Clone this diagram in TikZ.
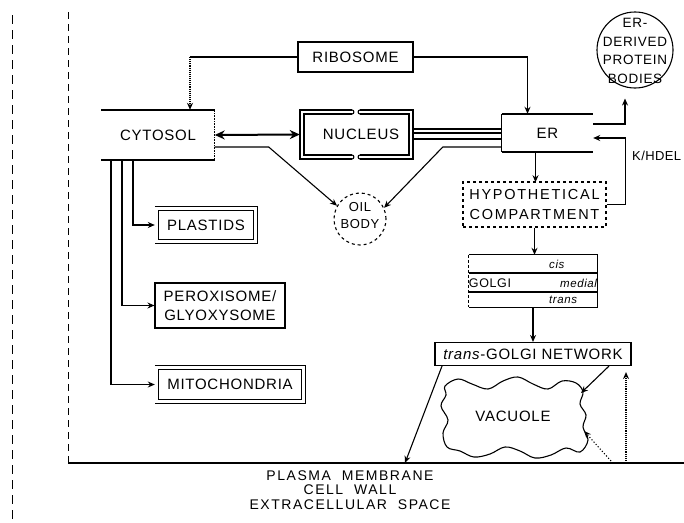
\documentclass[tikz,border=0pt]{standalone}
\usepackage{fontspec}
\setmainfont{Liberation Sans}[LetterSpace=5]
\usetikzlibrary{arrows.meta,calc}
\begin{document}
\begin{tikzpicture}[x=1pt,y=-1pt,
  font=\fontsize{15}{17}\selectfont,
  every node/.style={inner sep=0pt, align=center},
  ln/.style={line width=1.1pt},
  thk/.style={line width=1.5pt},
  arr/.style={-{Stealth[length=7pt,width=6pt]}, line width=1.1pt},
  wide/.style={font=\fontsize{14.5}{20}\selectfont\addfontfeature{LetterSpace=12}},
  small/.style={font=\fontsize{13}{17}\selectfont},
  golg/.style={font=\fontsize{12.5}{14}\selectfont},
  ital/.style={font=\fontsize{11.5}{14}\selectfont\itshape},
  ]
\useasboundingbox (0,0) rectangle (684,522);

% side lines and membrane
\coordinate (d1a) at (12,15);
\coordinate (d1b) at (12,522);
\coordinate (d2a) at (68,12);
\coordinate (pmL) at (68,463);
\coordinate (pmR) at (684,463);
\draw[line width=0.8pt, dash pattern=on 9pt off 6pt] (d1a) -- (d1b);
\draw[line width=0.8pt, dash pattern=on 7pt off 5pt] (d2a) -- (pmL);
\draw[thk] (pmL) -- (pmR);
\node (pmt) at (350,490) [font=\fontsize{14}{14.5}\selectfont\addfontfeature{LetterSpace=11}]
  {PLASMA\ \ MEMBRANE\\CELL\ \ WALL\\EXTRACELLULAR\ \ SPACE};

% ribosome
\node[draw, ln, minimum width=115pt, minimum height=30pt] (ribo) at (355.5,57) {RIBOSOME};

% cytosol
\node[minimum width=113pt, minimum height=50pt] (cyto) at (158,135) {CYTOSOL};
\draw[thk] (cyto.north west) -- (cyto.north east);
\draw[thk] (cyto.south west) -- (cyto.south east);
\draw[line width=0.6pt, densely dotted] (cyto.north east) -- (cyto.south east);

% nucleus
\node[minimum width=113pt, minimum height=49pt] (nuc) at (356.5,134.5) {};
\node (nuct) at (361,134.5) {NUCLEUS};
\draw[ln] (352,110) -- (300,110) -- (300,159) -- (352,159);
\draw[ln] (360,159) -- (413,159) -- (413,110) -- (360,110);
\draw[ln] (352,114) -- (304,114) -- (304,155) -- (352,155);
\draw[ln] (360,155) -- (409,155) -- (409,114) -- (360,114);
\draw[ln] (352,110) to[out=0,in=0,looseness=1.6] (352,114);
\draw[ln] (360,110) to[out=180,in=180,looseness=1.6] (360,114);
\draw[ln] (352,155) to[out=0,in=0,looseness=1.6] (352,159);
\draw[ln] (360,155) to[out=180,in=180,looseness=1.6] (360,159);

% ER
\node[minimum width=91pt, minimum height=38pt] (er) at (547.5,133) {ER};
\draw[thk] (er.north west) -- (er.north east);
\draw[thk] (er.south west) -- (er.south east);
\draw[ln] (er.north west) -- (er.south west);

% ER-derived protein bodies
\node[circle, draw, ln, minimum size=76pt] (pb) at (635,50) {};
\node[font=\fontsize{13.5}{18.5}\selectfont] (pbt) at (635,51) {ER-\\DERIVED\\PROTEIN\\BODIES};

% hypothetical compartment
\node[draw, ln, dashed, minimum width=143pt, minimum height=45pt, wide] (hyp) at (534.5,204.5) {HYPOTHETICAL\\COMPARTMENT};

% golgi
\node[minimum width=128pt, minimum height=52pt] (golgi) at (533,281) {};
\draw[ln] (golgi.north west) -- (golgi.north east) -- (golgi.south east) -- (golgi.south west);
\draw[ln, densely dashed] (golgi.north west) -- (golgi.south west);
\draw[line width=1.8pt] ([shift={(0,18)}]golgi.north west) -- ([shift={(0,18)}]golgi.north east);
\draw[line width=1.8pt] ([shift={(0,37)}]golgi.north west) -- ([shift={(0,37)}]golgi.north east);
\node[ital, anchor=west] (gcis) at (549,264) {cis};
\node[golg] (ggol) at (490,283) {GOLGI};
\node[ital, anchor=west] (gmed) at (560,283) {medial};
\node[ital, anchor=west] (gtr) at (549,300) {trans};

% trans-golgi network
\node[draw, ln, minimum width=196pt, minimum height=23pt] (tgn) at (533,354) {\textit{trans}-GOLGI NETWORK};

% vacuole
\draw[ln] plot[smooth cycle, tension=0.6] coordinates {
 (445,386) (458,379) (472,384) (488,389) (503,381) (518,377) (533,384) (548,389) (562,381) (576,383)
 (583,392) (580,404) (586,415) (583,427) (588,440)
 (580,452) (566,448) (551,455) (535,458) (520,451) (505,447) (490,454) (474,457) (460,451)
 (447,447) (443,433) (448,420) (441,406) (446,395)};
\node (vac) at (513,416) {VACUOLE};
\coordinate (vacA) at (581,393);
\coordinate (vacB) at (584,431);

% oil body
\node[circle, draw, ln, dashed, minimum size=52pt] (oil) at (360,219) {};
\node[small] (oilt) at (360,216) {OIL\\BODY};

% organelles
\node[minimum width=102pt, minimum height=36pt] (pla) at (206,225) {PLASTIDS};
\draw[ln] (pla.north west) -- (pla.north east) -- (pla.south east) -- (pla.south west);
\draw[ln] ([shift={(4,4)}]pla.north west) rectangle ([shift={(-4,-4)}]pla.south east);
\node[draw, ln, minimum width=130pt, minimum height=45pt, font=\fontsize{15}{19}\selectfont] (per) at (220,305.5) {PEROXISOME/\\GLYOXYSOME};
\node[minimum width=150pt, minimum height=37pt] (mit) at (230,384.5) {MITOCHONDRIA};
\draw[ln] (mit.north west) -- (mit.north east) -- (mit.south east) -- (mit.south west);
\draw[ln] ([shift={(4,4)}]mit.north west) rectangle ([shift={(-4,-4)}]mit.south east);

% connectors
\coordinate (rc) at ([shift={(32,0)}]cyto.north);
\draw[ln] (ribo.west) -- (ribo.west -| rc);
\draw[arr, densely dotted] (ribo.west -| rc) -- (rc);
\draw[arr] (ribo.east) -| ([shift={(-20,0)}]er.north);

\draw[{Stealth[length=10pt,width=9pt]}-{Stealth[length=10pt,width=9pt]}, line width=2pt] (cyto.east) -- (nuc.west);
\draw[ln] ([shift={(0,-5.5)}]nuc.east) -- ++(89,0);
\draw[ln] ([shift={(0,-1.5)}]nuc.east) -- ++(89,0);
\draw[ln] ([shift={(0,4.5)}]nuc.east) -- ++(89,0);

\draw[arr] ([shift={(0,12)}]cyto.east) -- ++(54,0) -- (oil.150);
\draw[arr] ([shift={(0,14)}]er.west) -- ++(-59,0) -- (oil.25);

\draw[arr, shorten >=10pt] ([shift={(0,-9)}]er.east) -| ([shift={(-10,0)}]pb.south);
\draw[arr] (hyp.east) -| ([shift={(32,5)}]er.east) -- ([shift={(0,5)}]er.east);
\node[anchor=west, font=\fontsize{13}{15}\selectfont\addfontfeature{LetterSpace=3}] (kh) at (632,156) {K/HDEL};

\draw[arr] ([shift={(-12,0)}]er.south) -- ++(0,30);
\draw[arr] (hyp.south) -- (hyp.south |- golgi.north);
\draw[arr] (golgi.south) -- (tgn.north);

\draw[arr] ([shift={(-25,0)}]cyto.south) |- (pla.west);
\draw[arr] ([shift={(-36,0)}]cyto.south) |- (per.west);
\draw[arr] ([shift={(-47,0)}]cyto.south) |- (mit.west);

\coordinate (pm1) at (405,463);
\coordinate (pm2) at (611,461);
\coordinate (pm3) at (626,463);
\draw[arr] ([shift={(-91,0)}]tgn.south) -- (pm1);
\draw[arr] ([shift={(76,0)}]tgn.south) -- (vacA);
\draw[arr, dotted] (pm2) -- (vacB);
\draw[arr, densely dotted] (pm3) -- ([shift={(93,6)}]tgn.south);
\end{tikzpicture}
\end{document}
